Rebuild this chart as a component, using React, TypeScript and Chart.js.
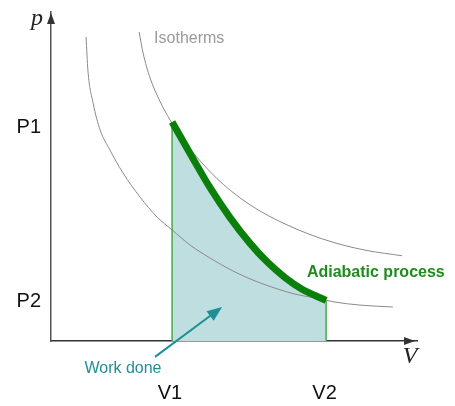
import React, { useEffect, useRef } from "react";
import { Chart, registerables } from "chart.js";

Chart.register(...registerables);

// Volume ticks and pressure ticks
const V_TICKS = [3.9, 8.97];
const V_LABELS = ["V1", "V2"];
const P_TICKS = [1.45, 7.8];
const P_LABELS = ["P2", "P1"];

// Volume bounds of the process
const V_START = 3.97;
const V_END = 9.02;

// Adiabatic process
const adiabaticV = [3.97, 4.56, 5.21, 5.87, 6.52, 7.11, 7.67, 8.23, 8.66, 9.02];
const adiabaticP = [7.99, 6.84, 5.6, 4.5, 3.57, 2.86, 2.32, 1.89, 1.66, 1.48];

// Upper isotherm
const isoHighV = [2.89, 3.02, 3.25, 3.57, 3.9, 4.39, 4.89, 5.38, 5.93, 6.52, 7.11, 7.77, 8.43, 9.31, 10.36, 11.51];
const isoHighP = [11.27, 10.5, 9.59, 8.75, 8.07, 7.25, 6.57, 5.99, 5.45, 4.97, 4.58, 4.22, 3.91, 3.58, 3.3, 3.11];

// Lower isotherm
const isoLowV = [1.15, 1.21, 1.38, 1.61, 1.93, 2.36, 2.92, 3.48, 3.97, 4.56, 5.21, 5.97, 6.69, 7.34, 8.0, 8.66, 9.31, 10.13, 11.21];
const isoLowP = [11.09, 9.88, 8.68, 7.7, 6.97, 6.13, 5.25, 4.52, 4.05, 3.5, 3.03, 2.55, 2.19, 1.93, 1.71, 1.57, 1.42, 1.31, 1.24];

const toPts = (xs: number[], ys: number[]) => xs.map((x, i) => ({ x, y: ys[i] }));

const annotations = {
  id: "annotations",
  afterDraw(chart: any) {
    const { ctx, chartArea, scales } = chart;
    const xs = scales.x;
    const ys = scales.y;
    const px = (v: number) => xs.getPixelForValue(v);
    const py = (v: number) => ys.getPixelForValue(v);
    ctx.save();
    // axis arrowheads
    ctx.fillStyle = "#333";
    const bx = chartArea.right - 2;
    const by = chartArea.bottom;
    ctx.beginPath();
    ctx.moveTo(bx, by);
    ctx.lineTo(bx - 11, by - 4);
    ctx.lineTo(bx - 11, by + 4);
    ctx.closePath();
    ctx.fill();
    const lx = chartArea.left;
    const ty = chartArea.top + 1;
    ctx.beginPath();
    ctx.moveTo(lx, ty);
    ctx.lineTo(lx - 4, ty + 11);
    ctx.lineTo(lx + 4, ty + 11);
    ctx.closePath();
    ctx.fill();

    // axis symbols
    ctx.fillStyle = "#222";
    ctx.font = "italic 24px 'Liberation Serif', 'DejaVu Serif', serif";
    ctx.textAlign = "center";
    ctx.textBaseline = "middle";
    ctx.fillText("p", px(-0.46), py(11.75));
    ctx.fillText("V", px(11.77), py(-0.58));

    // Isotherms label
    ctx.fillStyle = "#9a9a9a";
    ctx.font = "16px 'Liberation Sans', Arial, sans-serif";
    ctx.textAlign = "left";
    ctx.fillText("Isotherms", px(3.38), py(11.02));

    // Adiabatic label
    ctx.fillStyle = "#1e8c1e";
    ctx.font = "bold 16px 'Liberation Sans', Arial, sans-serif";
    ctx.fillText("Adiabatic process", px(8.39), py(2.48));

    // Work done label + arrow
    ctx.fillStyle = "#1f8f96";
    ctx.font = "16px 'Liberation Sans', Arial, sans-serif";
    ctx.textAlign = "center";
    ctx.fillText("Work done", px(2.36), py(-0.99));

    const x0 = px(3.41), y0 = py(-0.58), x1 = px(5.61), y1 = py(1.24);
    const ang = Math.atan2(y1 - y0, x1 - x0);
    ctx.strokeStyle = "#1f8f96";
    ctx.lineWidth = 2;
    ctx.beginPath();
    ctx.moveTo(x0, y0);
    ctx.lineTo(x1 - 8 * Math.cos(ang), y1 - 8 * Math.sin(ang));
    ctx.stroke();
    ctx.beginPath();
    ctx.moveTo(x1, y1);
    ctx.lineTo(x1 - 15 * Math.cos(ang) + 6 * Math.sin(ang), y1 - 15 * Math.sin(ang) - 6 * Math.cos(ang));
    ctx.lineTo(x1 - 15 * Math.cos(ang) - 6 * Math.sin(ang), y1 - 15 * Math.sin(ang) + 6 * Math.cos(ang));
    ctx.closePath();
    ctx.fill();
    ctx.restore();
  },
};

export default function App() {
  const ref = useRef<HTMLCanvasElement>(null);
  useEffect(() => {
    if (!ref.current) return;
    const chart = new Chart(ref.current, {
      type: "scatter",
      data: {
        datasets: [
          {
            label: "Adiabatic",
            data: toPts(adiabaticV, adiabaticP),
            showLine: true,
            borderColor: "#0a800a",
            borderWidth: 7,
            borderCapStyle: "butt",
            backgroundColor: "rgba(190,222,223,1)",
            fill: "origin",
            pointRadius: 0,
            cubicInterpolationMode: "monotone",
            order: 0,
          },
          {
            label: "V1 edge",
            data: [{ x: V_START, y: 0 }, { x: V_START, y: adiabaticP[0] }],
            showLine: true,
            borderColor: "#4aa84a",
            borderWidth: 1.5,
            pointRadius: 0,
            order: 1,
          },
          {
            label: "V2 edge",
            data: [{ x: V_END, y: 0 }, { x: V_END, y: adiabaticP[adiabaticP.length - 1] }],
            showLine: true,
            borderColor: "#4aa84a",
            borderWidth: 1.5,
            pointRadius: 0,
            order: 1,
          },
          {
            label: "Isotherm high",
            data: toPts(isoHighV, isoHighP),
            showLine: true,
            borderColor: "#8a8a8a",
            borderWidth: 1,
            pointRadius: 0,
            cubicInterpolationMode: "monotone",
            order: 2,
          },
          {
            label: "Isotherm low",
            data: toPts(isoLowV, isoLowP),
            showLine: true,
            borderColor: "#8a8a8a",
            borderWidth: 1,
            pointRadius: 0,
            cubicInterpolationMode: "monotone",
            order: 2,
          },
        ],
      },
      options: {
        animation: false,
        responsive: false,
        layout: { padding: { top: 12, right: 38, left: 0, bottom: 0 } },
        plugins: {
          legend: { display: false },
          tooltip: { enabled: false },
          filler: { drawTime: "beforeDatasetsDraw" },
        },
        scales: {
          x: {
            type: "linear",
            min: 0,
            max: 12,
            grid: { display: false, drawTicks: false },
            border: { display: true, color: "#333", width: 1.5 },
            afterBuildTicks: (s: any) => {
              s.ticks = V_TICKS.map((v) => ({ value: v }));
            },
            afterFit: (s: any) => {
              s.height = 65;
              s.paddingLeft = 0;
              s.paddingRight = 0;
            },
            ticks: {
              autoSkip: false,
              maxRotation: 0,
              padding: 40,
              color: "#111",
              font: { size: 20, family: "'Liberation Sans', Arial, sans-serif" },
              callback: (_v: any, i: number) => V_LABELS[i],
            },
          },
          y: {
            type: "linear",
            min: 0,
            max: 12,
            grid: { display: false, drawTicks: false },
            border: { display: true, color: "#555", width: 1.5 },
            afterBuildTicks: (s: any) => {
              s.ticks = P_TICKS.map((v) => ({ value: v }));
            },
            afterFit: (s: any) => {
              s.width = 51;
              s.paddingTop = 0;
              s.paddingBottom = 0;
            },
            ticks: {
              autoSkip: false,
              padding: 10,
              color: "#111",
              font: { size: 20, family: "'Liberation Sans', Arial, sans-serif" },
              callback: (_v: any, i: number) => P_LABELS[i],
            },
          },
        },
      },
      plugins: [annotations],
    } as any);
    return () => chart.destroy();
  }, []);
  return (
    <canvas
      ref={ref}
      width={455}
      height={406}
      style={{ position: "fixed", left: 0, top: 0, width: 455, height: 406 }}
    />
  );
}
